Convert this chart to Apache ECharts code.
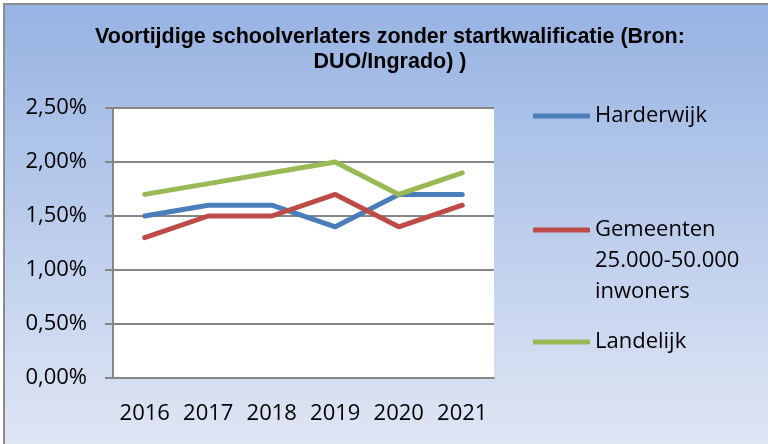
<!DOCTYPE html>
<html>
<head>
<meta charset="utf-8">
<script src="https://cdn.jsdelivr.net/npm/echarts@6/dist/echarts.min.js"></script>
<style>
  html, body { margin: 0; padding: 0; background: #fff; }
  #frame {
    position: absolute; left: 3px; top: 3px; width: 800px; height: 460px;
    border-left: 2px solid #8c8c8c; border-top: 2px solid #8c8c8c;
  }
  #main { position: absolute; left: 0; top: 0; width: 763px; height: 439px; }
</style>
</head>
<body>
<div id="frame"><div id="main"></div></div>
<script>
// chart data
const years = ['2016', '2017', '2018', '2019', '2020', '2021']
const seriesNames = ['Harderwijk', 'Gemeenten 25.000-50.000 inwoners', 'Landelijk']
const legendLabels = ['Harderwijk', '\n\nGemeenten\n25.000-50.000\ninwoners', 'Landelijk']
const harderwijk = [1.5, 1.6, 1.6, 1.4, 1.7, 1.7]
const gemeenten = [1.3, 1.5, 1.5, 1.7, 1.4, 1.6]
const landelijk = [1.7, 1.8, 1.9, 2.0, 1.7, 1.9]
const colors = ['#4a7ebb', '#be4b48', '#98b954']

const font = '"Open Sans", sans-serif'
// legend item tops (item height follows the text block, icon sits in its middle)
const legendTops = [95.5, 147.5, 321.5]

const chart = echarts.init(document.getElementById('main'))

const makeLine = (name, data, color) => ({
  name: name,
  type: 'line',
  data: data,
  symbol: 'none',
  color: color,
  lineStyle: { width: 5, color: color, cap: 'round', join: 'round' }
})

chart.setOption({
  animation: false,
  backgroundColor: {
    type: 'linear', x: 0, y: 0, x2: 0, y2: 1,
    colorStops: [
      { offset: 0, color: '#97b3e3' },
      { offset: 1, color: '#dfe6f4' }
    ]
  },
  title: {
    text: 'Voortijdige schoolverlaters zonder startkwalificatie (Bron:\nDUO/Ingrado) )',
    left: 385,
    top: 19.5,
    padding: 0,
    textAlign: 'center',
    textStyle: {
      fontFamily: '"Liberation Sans", Arial, sans-serif',
      fontWeight: 'bold',
      fontSize: 21.5,
      lineHeight: 25,
      color: '#000'
    }
  },
  legend: seriesNames.map((name, i) => ({
    data: [name],
    left: 528,
    top: legendTops[i],
    padding: 0,
    icon: 'roundRect',
    itemWidth: 57,
    itemHeight: 5,
    formatter: () => legendLabels[i],
    textStyle: { fontFamily: font, fontSize: 22, lineHeight: 31, color: '#000' }
  })),
  grid: { left: 108, top: 103, width: 381, height: 270, backgroundColor: '#fff', show: true, borderWidth: 0 },
  xAxis: {
    type: 'category',
    data: years,
    boundaryGap: true,
    axisLine: { lineStyle: { color: '#868686', width: 2 } },
    axisTick: { length: 8, lineStyle: { color: '#868686', width: 2 } },
    axisLabel: { interval: 0, fontFamily: font, fontSize: 22, lineHeight: 26, color: '#000', margin: 23 },
    splitLine: { show: false }
  },
  yAxis: {
    type: 'value',
    min: 0,
    max: 2.5,
    interval: 0.5,
    axisLine: { show: true, lineStyle: { color: '#868686', width: 2 } },
    axisTick: { show: true, length: 8, lineStyle: { color: '#868686', width: 2 } },
    axisLabel: {
      fontFamily: font, fontSize: 22, color: '#000', margin: 26,
      formatter: v => v.toFixed(2).replace('.', ',') + '%'
    },
    splitLine: { lineStyle: { color: '#868686', width: 2 } }
  },
  series: [
    makeLine(seriesNames[0], harderwijk, colors[0]),
    makeLine(seriesNames[1], gemeenten, colors[1]),
    makeLine(seriesNames[2], landelijk, colors[2])
  ]
})
</script>
</body>
</html>
